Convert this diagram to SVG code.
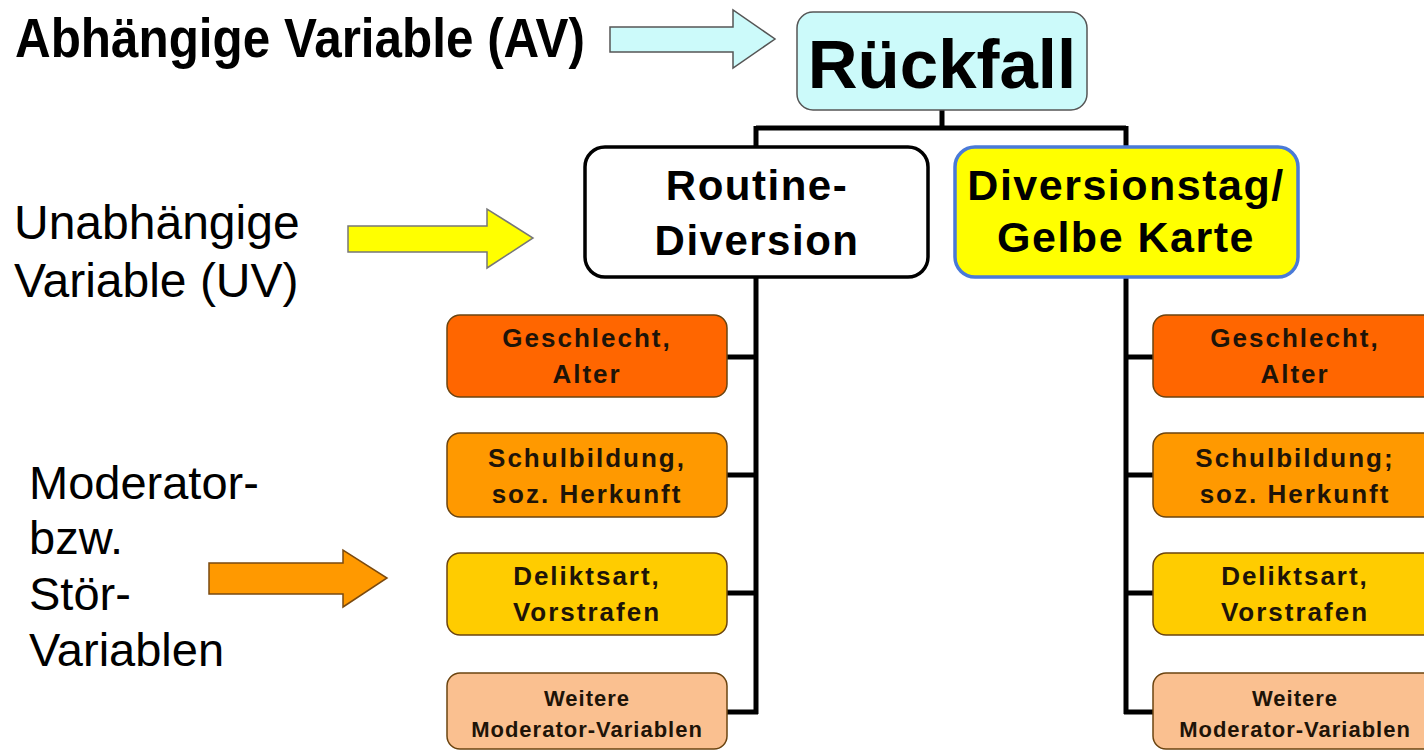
<svg xmlns="http://www.w3.org/2000/svg" width="1424" height="750" viewBox="0 0 1424 750">
<style>
.lbl{font-family:"Liberation Sans",Arial,sans-serif;fill:#000}
.b{font-weight:bold}
.big{font-family:"Liberation Sans",Arial,sans-serif;font-weight:bold;text-anchor:middle;fill:#000}
.sm{font-family:"Liberation Sans",Arial,sans-serif;font-weight:bold;text-anchor:middle;fill:#1e1408;font-size:26px;letter-spacing:2px}
.sm2{font-family:"Liberation Sans",Arial,sans-serif;font-weight:bold;text-anchor:middle;fill:#1e1408;font-size:22px;letter-spacing:1px}
.box{stroke:#6b4410;stroke-width:1.5}
.conn{fill:none;stroke:#000;stroke-width:5;stroke-linejoin:miter}
</style>
<rect width="1424" height="750" fill="#fff"/>

<g id="labels">
<text class="lbl b" x="15" y="57" font-size="55" textLength="570" lengthAdjust="spacingAndGlyphs">Abhängige Variable (AV)</text>
<text class="lbl" x="14" y="239" font-size="48">Unabhängige</text>
<text class="lbl" x="14" y="297" font-size="48">Variable (UV)</text>
<text class="lbl" x="29" y="499" font-size="47">Moderator-</text>
<text class="lbl" x="29" y="554" font-size="47">bzw.</text>
<text class="lbl" x="29" y="610" font-size="47">Stör-</text>
<text class="lbl" x="29" y="666" font-size="47">Variablen</text>
</g>

<g id="arrows">
<polygon points="610,27 733,27 733,10 775,39 733,68 733,52 610,52" fill="#ccfafa" stroke="#555" stroke-width="1.5"/>
<polygon points="348,226 487,226 487,209 533,238 487,268 487,252 348,252" fill="#ffff00" stroke="#777" stroke-width="1.5"/>
<polygon points="209,563 343,563 343,550 387,578 343,607 343,594 209,594" fill="#ff9900" stroke="#7a4a10" stroke-width="1.5"/>
</g>

<g id="connectors">
<path class="conn" d="M942,110 V128 M756,128 H1126 M756,126 V147 M1126,126 V147"/>
<path class="conn" d="M756,277 V714 M727,357 H758 M727,475 H758 M727,593 H758 M727,712 H758"/>
<path class="conn" d="M1126,277 V714 M1124,357 H1153 M1124,475 H1153 M1124,593 H1153 M1124,712 H1153"/>
</g>

<g id="rueckfall">
<rect x="797" y="12" width="290" height="98" rx="16" fill="#ccfafa" stroke="#555" stroke-width="1.5"/>
<text class="big" x="942" y="88" font-size="69">Rückfall</text>
</g>

<g id="routine">
<rect x="585" y="147" width="343" height="130" rx="20" fill="#fff" stroke="#000" stroke-width="3.5"/>
<text class="big" x="757" y="200" font-size="42" letter-spacing="1.5">Routine-</text>
<text class="big" x="757" y="255" font-size="42" letter-spacing="1.5">Diversion</text>
</g>

<g id="diversionstag">
<rect x="955" y="147" width="343" height="130" rx="20" fill="#ffff00" stroke="#4a7ad8" stroke-width="3.5"/>
<text class="big" x="1126" y="200" font-size="43" letter-spacing="1.5">Diversionstag/</text>
<text class="big" x="1126" y="252" font-size="43" letter-spacing="1.5">Gelbe Karte</text>
</g>

<g id="l-geschlecht">
<rect class="box" x="447" y="315" width="280" height="82" rx="13" fill="#ff6600"/>
<text class="sm" x="587" y="347">Geschlecht,</text>
<text class="sm" x="587" y="383">Alter</text>
</g>
<g id="l-schule">
<rect class="box" x="447" y="433" width="280" height="84" rx="13" fill="#ff9900"/>
<text class="sm" x="587" y="467">Schulbildung,</text>
<text class="sm" x="587" y="503">soz. Herkunft</text>
</g>
<g id="l-delikt">
<rect class="box" x="447" y="553" width="280" height="82" rx="13" fill="#ffcc00"/>
<text class="sm" x="587" y="585">Deliktsart,</text>
<text class="sm" x="587" y="621">Vorstrafen</text>
</g>
<g id="l-weitere">
<rect class="box" x="447" y="673" width="280" height="76" rx="13" fill="#fac090"/>
<text class="sm2" x="587" y="706">Weitere</text>
<text class="sm2" x="587" y="737">Moderator-Variablen</text>
</g>

<g id="r-geschlecht">
<rect class="box" x="1153" y="315" width="284" height="82" rx="13" fill="#ff6600"/>
<text class="sm" x="1295" y="347">Geschlecht,</text>
<text class="sm" x="1295" y="383">Alter</text>
</g>
<g id="r-schule">
<rect class="box" x="1153" y="433" width="284" height="84" rx="13" fill="#ff9900"/>
<text class="sm" x="1295" y="467">Schulbildung;</text>
<text class="sm" x="1295" y="503">soz. Herkunft</text>
</g>
<g id="r-delikt">
<rect class="box" x="1153" y="553" width="284" height="82" rx="13" fill="#ffcc00"/>
<text class="sm" x="1295" y="585">Deliktsart,</text>
<text class="sm" x="1295" y="621">Vorstrafen</text>
</g>
<g id="r-weitere">
<rect class="box" x="1153" y="673" width="284" height="76" rx="13" fill="#fac090"/>
<text class="sm2" x="1295" y="706">Weitere</text>
<text class="sm2" x="1295" y="737">Moderator-Variablen</text>
</g>
</svg>
